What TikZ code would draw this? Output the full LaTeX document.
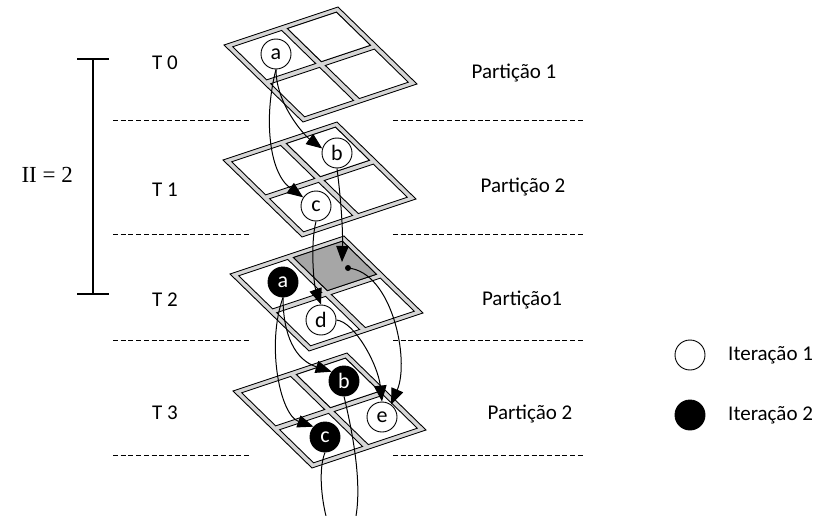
\documentclass[tikz,border=0pt]{standalone}
\usepackage{fontspec}
\setmainfont{Carlito}
\newfontfamily\seriffont{Liberation Serif}
\usetikzlibrary{arrows.meta,calc}
\definecolor{framegray}{RGB}{214,214,214}
\definecolor{shadegray}{RGB}{166,166,166}
\tikzset{
  frame/.style={draw=black, line width=0.9pt, fill=framegray},
  cell/.style={draw=black, line width=0.9pt, fill=white},
  it1/.style={circle, draw=black, line width=0.9pt, fill=white, minimum size=30pt, inner sep=0pt, font=\fontsize{22}{22}\selectfont},
  it2/.style={it1, fill=black, text=white},
  flow/.style={line width=1pt, -{Triangle[length=16pt,width=12.5pt]}},
  plainflow/.style={line width=1pt},
  sepline/.style={dash pattern=on 5pt off 2.7pt, line width=0.9pt},
  lbl/.style={font=\fontsize{21}{21}\selectfont, inner sep=0pt},
}
\newcommand\drawplane[3]{%
  \begin{scope}[shift={(#1,#2)}, x={(-79pt,77pt)}, y={(114pt,38pt)}]
    \draw[frame] (0,0)--(1,0)--(1,1)--(0,1)--cycle;
    \foreach \sa/\sb in {0.045/0.475, 0.525/0.955}{
      \foreach \ta/\tb in {0.045/0.475, 0.525/0.955}{
        \draw[cell] (\sa,\ta)--(\sb,\ta)--(\sb,\tb)--(\sa,\tb)--cycle;
      }
    }
    \draw[cell, fill=#3] (0.525,0.525)--(0.955,0.525)--(0.955,0.955)--(0.525,0.955)--cycle;
  \end{scope}}
\begin{document}
\begin{tikzpicture}[x=1pt,y=-1pt]
  \useasboundingbox (0,0) rectangle (819,516);
  \fill[white] (0,0) rectangle (819,516);

  % separators
  \foreach \yy in {120,234,340,455}{
    \draw[sepline] (113,\yy) -- (250,\yy);
    \draw[sepline] (393,\yy) -- (585,\yy);
  }

  % bracket
  \draw[line width=1.2pt] (77,59) -- (109,59);
  \draw[line width=1.2pt] (93,59) -- (93,294);
  \draw[line width=1.2pt] (77,294) -- (109,294);
  \node[anchor=east, inner sep=0pt, font=\seriffont\fontsize{23}{23}\selectfont] (ii) at (73,175) {II = 2};

  % time labels
  \node[lbl] (t0) at (165,63) {T 0};
  \node[lbl] (t1) at (165,190) {T 1};
  \node[lbl] (t2) at (165,300) {T 2};
  \node[lbl] (t3) at (165,413) {T 3};

  % partition labels
  \node[lbl] (p0) at (514,73) {Partição 1};
  \node[lbl] (p1) at (523,187) {Partição 2};
  \node[lbl] (p2) at (522,300) {Partição1};
  \node[lbl] (p3) at (530,414) {Partição 2};

  % planes
  \drawplane{303}{122}{white}
  \drawplane{302}{237}{white}
  \drawplane{309}{351}{shadegray}
  \drawplane{312}{468}{white}

  % nodes
  \node[it1] (a0) at (276,54) {a};
  \node[it1] (b1) at (337,153) {b};
  \node[it1] (c1) at (316,206) {c};
  \node[it2] (a2) at (283,282) {a};
  \node[it1] (d2) at (321,320) {d};
  \node[circle, fill=black, inner sep=0pt, minimum size=6pt] (dot) at (348,268) {};
  \node[it2] (b3) at (344,381) {b};
  \node[it2] (c3) at (325,437) {c};
  \node[it1] (e3) at (382,417) {e};
  \coordinate (g2) at (342,262);
  \coordinate (bend) at (356,516);
  \coordinate (cend) at (326,516);

  % connectors
  \draw[flow] (a0.south) .. controls (276,104) and (304,135) .. (b1.163);
  \draw[flow] (a0.south) .. controls (264,115) and (268,172) .. (c1.146);
  \draw[flow] (c1.south) .. controls (310,245) and (314,285) .. (d2.north);
  \draw[flow] (b1.south) .. controls (341,200) and (343,230) .. (g2);
  \draw[flow] (dot.center) .. controls (392,272) and (410,360) .. (e3.54);
  \draw[flow] (d2.east) .. controls (355,322) and (378,365) .. (e3.north);
  \draw[flow] (a2.south) .. controls (283,335) and (295,360) .. (b3.143);
  \draw[flow] (a2.south) .. controls (266,345) and (280,415) .. (c3.138);
  \draw[plainflow] (b3.south) .. controls (352,430) and (362,480) .. (bend);
  \draw[plainflow] (c3.south) .. controls (318,470) and (322,500) .. (cend);

  % legend
  \node[it1] (l1) at (690,355) {};
  \node[it2] (l2) at (690,415) {};
  \node[lbl, anchor=west] (l1t) at (728,355) {Iteração 1};
  \node[lbl, anchor=west] (l2t) at (728,415) {Iteração 2};
\end{tikzpicture}
\end{document}
